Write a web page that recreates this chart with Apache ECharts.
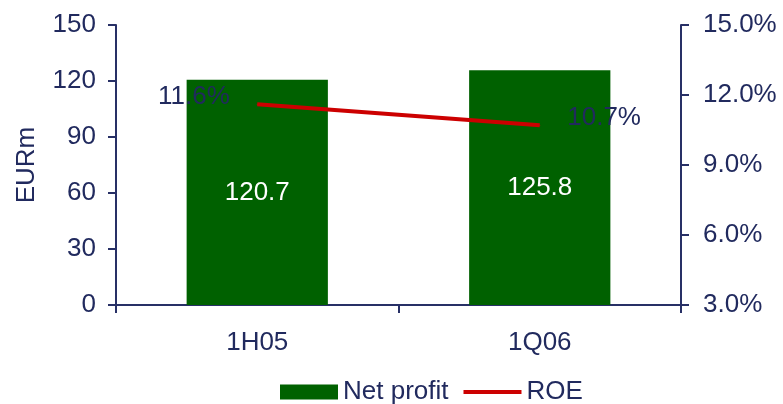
<!DOCTYPE html>
<html>
<head>
<meta charset="utf-8">
<script src="https://cdn.jsdelivr.net/npm/echarts@6/dist/echarts.min.js"></script>
<style>
  html, body { margin: 0; padding: 0; background: #ffffff; }
  #chart { width: 783px; height: 404px; }
</style>
</head>
<body>
<div id="chart"></div>
<script>
// Periods on the category axis
const periods = ['1H05', '1Q06'];
// Net profit, EURm (left axis)
const netProfit = [120.7, 125.8];
// Return on equity, % (right axis)
const roe = [11.6, 10.7];
// Axis ranges
const profitAxis = { min: 0, max: 150, interval: 30 };
const roeAxis = { min: 3, max: 15, interval: 3 };

const FONT = '"Liberation Sans", Arial, sans-serif';
const FS = 26;
const NAVY = '#212a5e';
const AXIS = '#283066';
const GREEN = '#006100';
const RED = '#cc0000';

const chart = echarts.init(document.getElementById('chart'), null, { renderer: 'canvas' });

chart.setOption({
  animation: false,
  backgroundColor: '#ffffff',
  textStyle: { fontFamily: FONT, color: NAVY, fontSize: FS },
  grid: { left: 116, right: 102, top: 25, bottom: 99, containLabel: false },
  legend: {
    left: 275,
    top: 374,
    itemWidth: 58,
    itemHeight: 15,
    itemGap: 13,
    textStyle: { fontFamily: FONT, fontSize: FS, color: NAVY },
    data: [
      { name: 'Net profit', icon: 'rect' },
      // plain line key: hide the marker dot, keep the stroke
      {
        name: 'ROE',
        itemStyle: { color: 'rgba(0,0,0,0)', borderWidth: 0 },
        lineStyle: { color: RED, width: 4 }
      }
    ]
  },
  xAxis: {
    type: 'category',
    data: periods,
    boundaryGap: true,
    axisLine: { lineStyle: { color: AXIS, width: 2 } },
    axisTick: { show: true, length: 8, inside: false, alignWithLabel: false, lineStyle: { color: AXIS, width: 2 } },
    axisLabel: { fontFamily: FONT, fontSize: FS, color: NAVY, margin: 25 },
    splitLine: { show: false }
  },
  yAxis: [
    {
      type: 'value',
      position: 'left',
      min: profitAxis.min,
      max: profitAxis.max,
      interval: profitAxis.interval,
      name: 'EURm',
      nameLocation: 'middle',
      nameGap: 76,
      nameRotate: 90,
      nameTextStyle: { fontFamily: FONT, fontSize: FS, color: NAVY },
      axisLine: { show: true, lineStyle: { color: AXIS, width: 2 } },
      axisTick: { show: true, length: 8, lineStyle: { color: AXIS, width: 2 } },
      axisLabel: { fontFamily: FONT, fontSize: FS, color: NAVY, margin: 20 },
      splitLine: { show: false }
    },
    {
      type: 'value',
      position: 'right',
      min: roeAxis.min,
      max: roeAxis.max,
      interval: roeAxis.interval,
      axisLine: { show: true, lineStyle: { color: AXIS, width: 2 } },
      axisTick: { show: true, length: 8, lineStyle: { color: AXIS, width: 2 } },
      axisLabel: {
        fontFamily: FONT, fontSize: FS, color: NAVY, margin: 22,
        formatter: v => v.toFixed(1) + '%'
      },
      splitLine: { show: false }
    }
  ],
  series: [
    {
      name: 'Net profit',
      type: 'bar',
      yAxisIndex: 0,
      data: netProfit,
      barWidth: '50%',
      itemStyle: { color: GREEN },
      label: {
        show: true,
        position: 'inside',
        fontFamily: FONT,
        fontSize: FS,
        color: '#ffffff',
        formatter: p => p.value.toFixed(1)
      },
      z: 2
    },
    {
      name: 'ROE',
      type: 'line',
      yAxisIndex: 1,
      symbol: 'circle',
      symbolSize: 1,
      showSymbol: true,
      lineStyle: { color: RED, width: 4 },
      itemStyle: { color: RED },
      data: roe.map((v, i) => ({
        value: v,
        label: {
          show: true,
          position: i === 0 ? 'left' : 'right',
          distance: 27,
          offset: [0, -8],
          fontFamily: FONT,
          fontSize: FS,
          color: NAVY,
          formatter: p => p.value.toFixed(1) + '%'
        }
      })),
      z: 3
    }
  ]
});
</script>
</body>
</html>
